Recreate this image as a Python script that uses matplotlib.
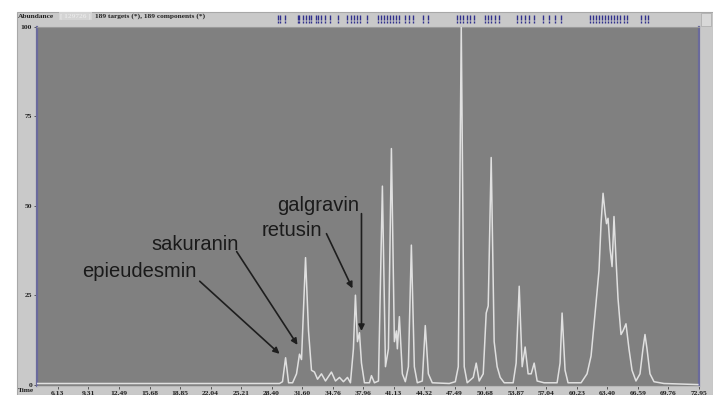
import matplotlib
matplotlib.use("Agg")
import matplotlib.pyplot as plt
from matplotlib.patches import Rectangle

# ---------------- data ----------------
time_min = [3.95, 29.23, 29.54, 29.86, 30.17, 30.59, 31.00, 31.31, 31.52, 31.94,
            32.25, 32.56, 32.87, 33.19, 33.60, 34.02, 34.64, 35.06, 35.48, 35.89,
            36.31, 36.62, 36.93, 37.14, 37.35, 37.56, 37.77, 38.08, 38.60, 38.81,
            39.12, 39.54, 39.95, 40.27, 40.58, 40.89, 41.20, 41.41, 41.51, 41.72,
            42.03, 42.34, 42.66, 42.97, 43.28, 43.59, 44.11, 44.42, 44.74, 45.15,
            46.92, 47.55, 47.86, 48.17, 48.48, 48.79, 49.42, 49.73, 50.04, 50.46,
            50.77, 50.98, 51.29, 51.60, 51.91, 52.23, 52.65, 53.58, 53.89, 54.21,
            54.52, 54.83, 55.14, 55.46, 55.77, 56.08, 56.81, 58.16, 58.47, 58.68,
            58.99, 59.30, 60.66, 61.28, 61.70, 62.12, 62.53, 62.74, 62.95, 63.16,
            63.31, 63.47, 63.68, 63.89, 64.09, 64.30, 64.51, 64.82, 65.03, 65.34,
            65.65, 65.97, 66.38, 66.80, 67.11, 67.32, 67.53, 67.84, 68.26, 69.30,
            72.83]
abundance = [0.3, 0.3, 0.8, 7.5, 0.5, 0.5, 3.0, 8.5, 7.0, 35.5,
             15.0, 4.0, 3.5, 1.5, 3.0, 1.0, 3.5, 1.0, 2.0, 0.8,
             2.0, 0.5, 10.0, 25.0, 12.0, 14.5, 6.0, 0.5, 0.5, 2.5,
             0.5, 1.0, 55.5, 5.0, 10.0, 66.0, 12.0, 15.0, 10.0, 19.0,
             3.0, 0.8, 5.0, 39.0, 5.0, 0.5, 1.0, 16.5, 3.0, 0.5,
             0.3, 0.8, 5.0, 100.0, 5.0, 0.5, 2.0, 6.0, 1.0, 3.0,
             20.0, 22.0, 63.5, 12.0, 5.0, 2.0, 0.5, 0.5, 6.0, 27.5,
             5.0, 10.5, 3.0, 3.0, 6.0, 1.0, 0.5, 0.5, 6.0, 20.0,
             4.0, 0.5, 0.5, 3.0, 8.0, 20.0, 32.0, 45.0, 53.5, 48.0,
             45.0, 46.5, 38.0, 33.0, 47.0, 35.0, 24.0, 14.0, 15.0, 17.0,
             10.0, 4.0, 1.0, 3.0, 10.0, 14.0, 10.0, 3.0, 0.8, 0.3,
             0.0]

x_ticks = [6.13, 9.31, 12.49, 15.68, 18.85, 22.04, 25.21, 28.40, 31.60, 34.76,
           37.96, 41.13, 44.32, 47.49, 50.68, 53.87, 57.04, 60.23, 63.40, 66.59,
           69.76, 72.95]
x_tick_labels = ["6.13", "9.31", "12.49", "15.68", "18.85", "22.04", "25.21", "28.40",
                 "31.60", "34.76", "37.96", "41.13", "44.32", "47.49", "50.68", "53.87",
                 "57.04", "60.23", "63.40", "66.59", "69.76", "72.95"]
y_ticks = [0, 25, 50, 75, 100]
y_tick_labels = ["0", "25", "50", "75", "100"]

component_times = [29.02, 29.23, 29.75, 31.11, 31.31, 31.63, 31.94, 32.25, 32.56,
                   32.98, 33.29, 33.60, 33.92, 34.44, 35.37, 36.31, 36.72, 37.04,
                   37.35, 37.66, 38.39, 39.53, 39.84, 40.16, 40.47, 40.78, 41.10,
                   41.41, 41.72, 42.34, 42.76, 43.18, 44.22, 44.74, 47.75, 48.07,
                   48.38, 48.80, 49.11, 49.52, 50.67, 50.98, 51.29, 51.71, 52.13,
                   54.00, 54.41, 54.83, 55.25, 55.77, 56.70, 57.33, 57.95, 58.58,
                   61.59, 61.91, 62.22, 62.53, 62.84, 63.16, 63.47, 63.78, 64.09,
                   64.40, 64.72, 65.13, 65.44, 66.90, 67.32, 67.63]

# compound labels: name, peak time, peak tip height, text pos, arrow start
compounds = ["epieudesmin", "sakuranin", "retusin", "galgravin"]
compound_peak_time = [29.23, 31.10, 36.83, 37.77]
compound_peak_tip = [8.6, 11.1, 26.9, 15.0]
compound_text_xy = [(14.66, 31.7), (20.39, 39.2), (30.48, 43.1), (33.2, 50.2)]
compound_arrow_start = [(20.91, 28.9), (24.76, 37.2), (34.12, 42.2), (37.77, 47.8)]

# ---------------- figure ----------------
W, H = 713, 395
fig = plt.figure(figsize=(W / 100, H / 100), dpi=100, facecolor="white")

# light grey window background
fig.patches.append(Rectangle((17 / W, 0), 1 - 17 / W, 1 - 12 / H,
                             transform=fig.transFigure, facecolor="#c9c9c9",
                             edgecolor="#a8a8a8", lw=0.8, zorder=-10))
# small scroll button top-right
fig.patches.append(Rectangle((701 / W, 1 - 26 / H), 10 / W, 13 / H,
                             transform=fig.transFigure, facecolor="#d8d8d8",
                             edgecolor="#b0b0b0", lw=0.6, zorder=-9))

left, right, top, bottom = 37, 699, 27, 386
ax = fig.add_axes([left / W, 1 - bottom / H, (right - left) / W, (bottom - top) / H])
ax.set_zorder(2)
ax.set_facecolor("#808080")
ax.plot(time_min, abundance, color="#e0e0e0", lw=1.1, zorder=3)
ax.set_xlim(3.95, 72.83)
ax.set_ylim(-0.4, 100)

serif = ["Liberation Serif", "DejaVu Serif"]
ax.set_xticks(x_ticks)
ax.set_xticklabels(x_tick_labels, fontsize=5.4, fontweight="bold", family=serif,
                   color="#222222")
ax.set_yticks(y_ticks)
ax.set_yticklabels(y_tick_labels, fontsize=5.4, fontweight="bold", family=serif,
                   color="#222222")
ax.tick_params(axis="both", direction="out", length=2, width=0.6, color="#444444",
               pad=1.5)
for side in ("left", "right"):
    ax.spines[side].set_color("#6a6a9c")
    ax.spines[side].set_linewidth(1.6)
ax.spines["top"].set_color("#9a9a9a")
ax.spines["top"].set_linewidth(0.8)
ax.spines["bottom"].set_color("#b8b8b8")
ax.spines["bottom"].set_linewidth(0.8)

# component markers above the plot
for t in component_times:
    ax.plot([t, t], [102.0, 103.4], color="#30308c", lw=1.0,
            clip_on=False, solid_capstyle="butt", zorder=4)
    ax.plot([t, t], [101.1, 101.6], color="#30308c", lw=1.0,
            clip_on=False, solid_capstyle="butt", zorder=4)

# header text
fig.text(18 / W, 1 - 16 / H, "Abundance", fontsize=5.3, fontweight="bold",
         family=serif, color="#222222", va="center")
fig.text(60 / W, 1 - 16 / H, "[ 129726 ]", fontsize=5.3, fontweight="bold",
         family=serif, color="#e8e8e8", va="center",
         bbox=dict(boxstyle="square,pad=0.15", fc="#d4d4d4", ec="none"))
fig.text(95 / W, 1 - 16 / H, "189 targets (*), 189 components (*)", fontsize=5.3,
         fontweight="bold", family=serif, color="#222222", va="center")
fig.text(18 / W, 1 - 391 / H, "Time", fontsize=5.3, fontweight="bold",
         family=serif, color="#222222", va="center")

# compound annotations
for name, pt, tip, txy, start in zip(compounds, compound_peak_time, compound_peak_tip,
                                     compound_text_xy, compound_arrow_start):
    ax.text(txy[0], txy[1], name, fontsize=14.5, family=["Liberation Sans", "DejaVu Sans"],
            color="#1a1a1a", ha="center", va="center", zorder=6)
    ax.annotate("", xy=(pt, tip), xytext=start,
                arrowprops=dict(arrowstyle="-|>", color="#1e1e1e", lw=1.2,
                                mutation_scale=9, shrinkA=0, shrinkB=0), zorder=6)

fig.savefig("out.png", dpi=100, facecolor=fig.get_facecolor())
